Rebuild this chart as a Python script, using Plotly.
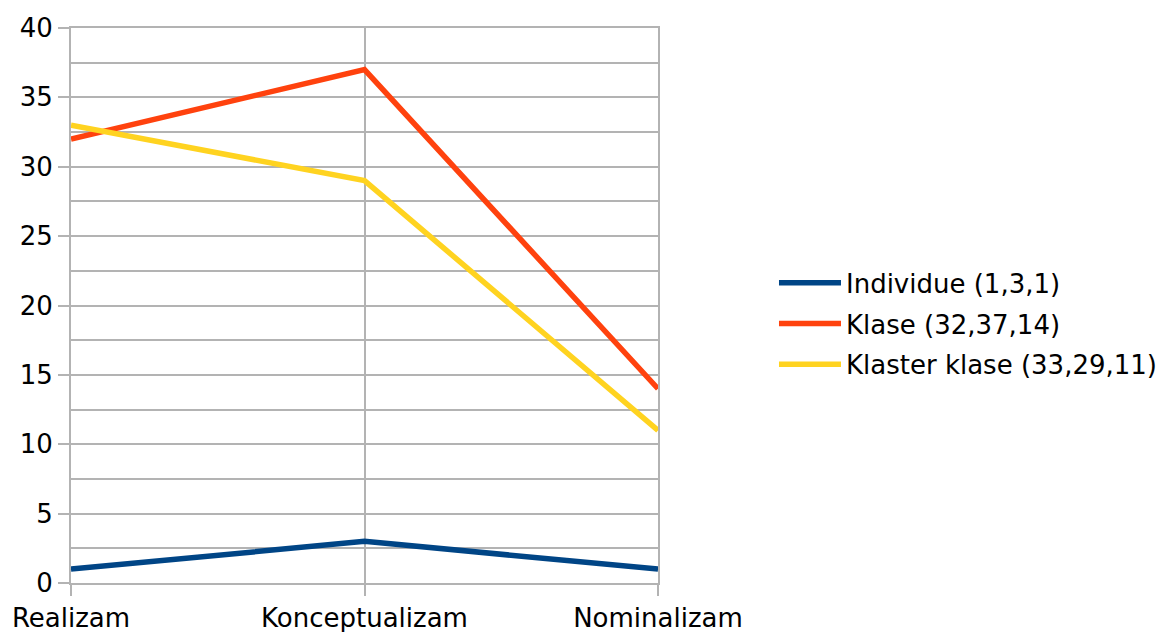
import plotly.graph_objects as go

categories = ["Realizam", "Konceptualizam", "Nominalizam"]
individue = [1, 3, 1]
klase = [32, 37, 14]
klaster_klase = [33, 29, 11]
series_names = ["Individue (1,3,1)", "Klase (32,37,14)", "Klaster klase (33,29,11)"]
colors = ["#004586", "#ff420e", "#ffd320"]

fig = go.Figure()
for i, (name, vals) in enumerate(zip(series_names, [individue, klase, klaster_klase])):
    fig.add_trace(go.Scatter(
        x=categories, y=vals, name=name, mode="lines",
        line=dict(color=colors[i], width=5.5),
        legendgroup=f"g{i}",
    ))

font = "DejaVu Sans, Verdana, sans-serif"
grid = "#b3b3b3"
fig.update_layout(
    width=1159, height=632,
    margin=dict(l=71, r=501, t=28, b=49, autoexpand=False),
    paper_bgcolor="white", plot_bgcolor="white",
    font=dict(family=font, size=26, color="#000000"),
    showlegend=True,
    legend=dict(
        x=1.1976, y=0.467, xanchor="left", yanchor="middle",
        font=dict(size=26), traceorder="grouped", tracegroupgap=4,
        itemwidth=62,
        bgcolor="rgba(0,0,0,0)",
    ),
    xaxis=dict(
        type="category", range=[0, 2], automargin=False,
        showgrid=True, gridcolor=grid, gridwidth=2,
        ticks="outside", ticklen=11, tickcolor=grid, tickwidth=2,
        showline=True, linecolor=grid, linewidth=2, mirror=True,
        zeroline=False, tickfont=dict(size=26),
    ),
    yaxis=dict(
        range=[0, 40], dtick=5, tick0=0, automargin=False,
        showgrid=True, gridcolor=grid, gridwidth=2,
        ticks="outside", ticklen=11, tickcolor=grid, tickwidth=2,
        showline=True, linecolor=grid, linewidth=2, mirror=True,
        zeroline=False,
        minor=dict(dtick=2.5, showgrid=True, gridcolor=grid, gridwidth=2, ticks=""),
        tickfont=dict(size=26),
    ),
)

fig.write_html("out.html", config={"displayModeBar": False},
               post_script="document.body.style.margin='0';")
